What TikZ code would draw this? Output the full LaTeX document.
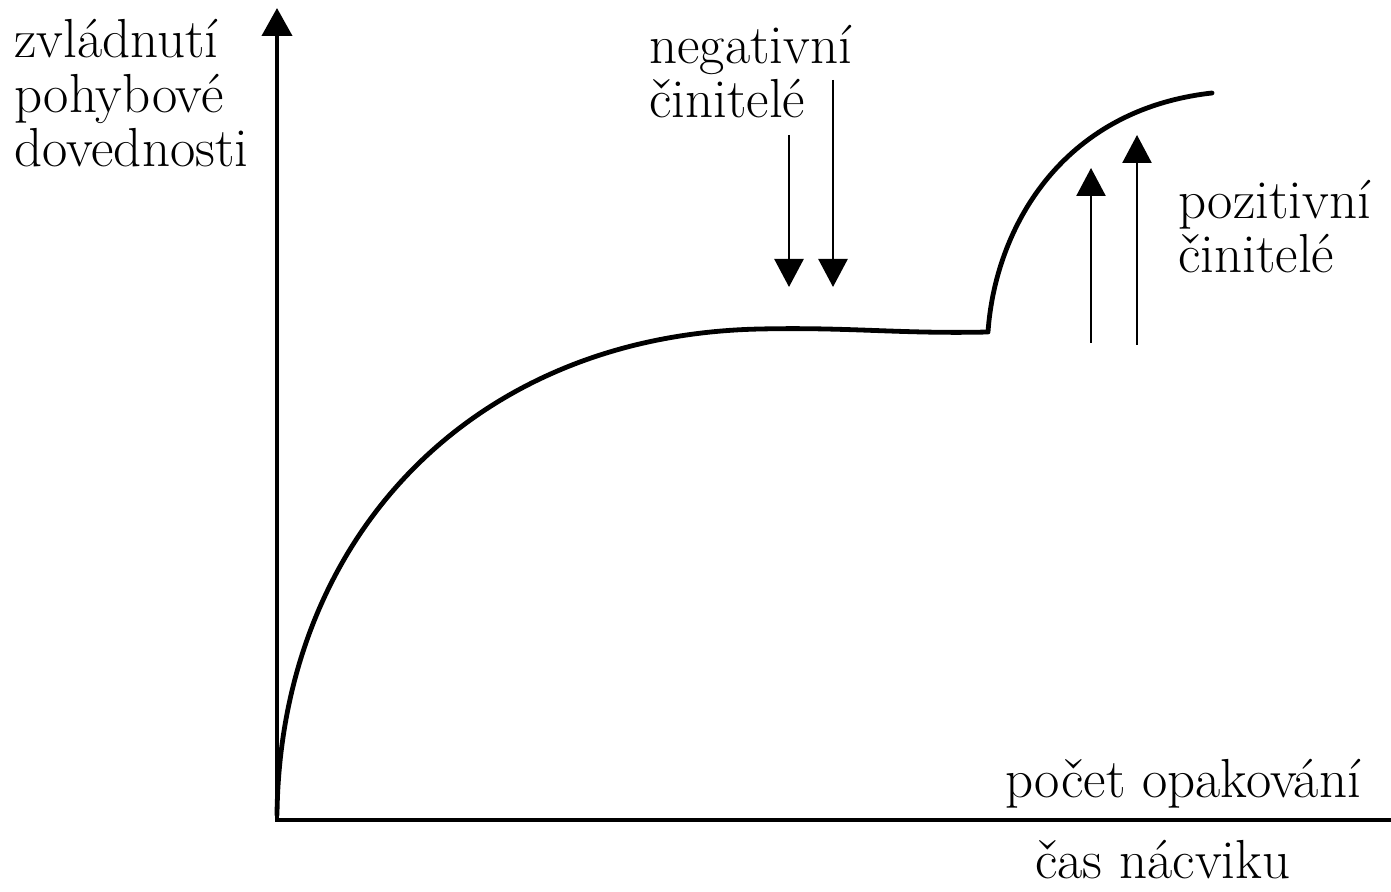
\documentclass[tikz,border=0pt]{standalone}
\usepackage{tikz}
\usetikzlibrary{arrows.meta,positioning}
\tikzset{
  >={Triangle[length=14pt,width=15pt]},
  axis/.style={line width=2pt,line cap=rect},
  curve/.style={line width=2.4pt,line join=round,line cap=round},
  push/.style={->,line width=1.3pt,>={Triangle[length=14pt,width=14.5pt]}},
  caption/.style={anchor=base west,inner sep=0pt,align=left,font=\fontsize{27.5}{27.25}\selectfont}
}

\begin{document}
\begin{tikzpicture}[x=0.5pt,y=-0.5pt]
  \useasboundingbox (0,0) rectangle (1391,892);

  % Axes
  \coordinate (origin) at (277,820);
  \coordinate (ytip) at (277,8);
  \coordinate (xend) at (1391,820);
  \draw[axis,->] (origin) -- (ytip);
  \draw[axis] (origin) -- (xend);

  % Learning curve: rise, plateau, second rise
  \coordinate (c0) at (277,815);
  \coordinate (c1) at (760,329);
  \coordinate (c2) at (988,332);
  \coordinate (c3) at (1212,93);
  \draw[curve] (c0) .. controls (280,540) and (470,335) .. (c1)
    .. controls (850,327) and (900,334) .. (c2)
    .. controls (995,230) and (1060,110) .. (c3);

  % Labels (anchored at the baseline of the last line)
  \node[caption] (ylabel) at (14,167) {zvládnutí\\pohybové\\dovednosti};
  \node[caption] (neg) at (649,118) {negativní\\činitelé};
  \node[caption] (pos) at (1178,273) {pozitivní\\činitelé};
  \node[caption] (reps) at (1005,797) {počet opakování};
  \node[caption] (time) at (1035,878) {čas nácviku};

  % Factors
  \coordinate (n1top) at (789,135);
  \coordinate (n1tip) at (789,287);
  \coordinate (n2top) at (833,80);
  \coordinate (n2tip) at (833,287);
  \coordinate (p1base) at (1091,343);
  \coordinate (p1tip) at (1091,168);
  \coordinate (p2base) at (1137,345);
  \coordinate (p2tip) at (1137,135);
  \draw[push] (n1top) -- (n1tip);
  \draw[push] (n2top) -- (n2tip);
  \draw[push] (p1base) -- (p1tip);
  \draw[push] (p2base) -- (p2tip);
\end{tikzpicture}
\end{document}
